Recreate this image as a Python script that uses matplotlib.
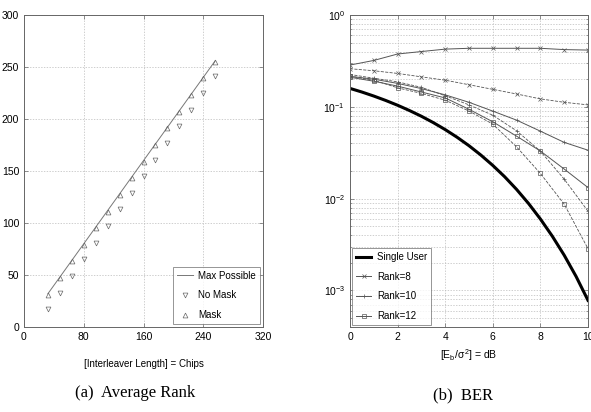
import matplotlib.pyplot as plt
from matplotlib.ticker import LogLocator, NullFormatter

# ---- (a) Average Rank ----
interleaver_len = [32, 48, 64, 80, 96, 112, 128, 144, 160, 176, 192, 208, 224, 240, 256]
max_possible = [32, 48, 64, 80, 96, 112, 128, 144, 160, 176, 192, 208, 224, 240, 256]
rank_no_mask = [17, 33, 49, 65, 81, 97, 113, 129, 145, 161, 177, 193, 209, 225, 241]
rank_mask = [31, 47, 63, 79, 95, 111, 127, 143, 159, 175, 191, 207, 223, 239, 255]

# ---- (b) BER ----
snr_db = [0, 1, 2, 3, 4, 5, 6, 7, 8, 9, 10]
snr_fine = [0, 0.5, 1, 1.5, 2, 2.5, 3, 3.5, 4, 4.5, 5, 5.5, 6, 6.5, 7, 7.5, 8, 8.5, 9, 9.5, 10]
ber_single = [0.1587, 0.1449, 0.131, 0.1173, 0.104, 0.0911, 0.0789, 0.0673, 0.0565, 0.0466,
              0.0377, 0.0298, 0.0230, 0.0173, 0.0126, 0.00887, 0.0060, 0.00390, 0.00242,
              0.00142, 0.00078]
ber_r8_solid = [0.285, 0.32, 0.376, 0.40, 0.425, 0.434, 0.434, 0.434, 0.434, 0.42, 0.415]
ber_r8_dash = [0.26, 0.247, 0.231, 0.212, 0.195, 0.174, 0.155, 0.138, 0.122, 0.112, 0.105]
ber_r10_solid = [0.215, 0.20, 0.18, 0.158, 0.135, 0.112, 0.0898, 0.0716, 0.0543, 0.041, 0.0337]
ber_r10_dash = [0.225, 0.205, 0.187, 0.163, 0.132, 0.105, 0.081, 0.0548, 0.0329, 0.0163, 0.0073]
ber_r12_solid = [0.21, 0.19, 0.168, 0.145, 0.125, 0.094, 0.0687, 0.0479, 0.033, 0.021, 0.0132]
ber_r12_dash = [0.215, 0.195, 0.161, 0.14, 0.118, 0.09, 0.0648, 0.0366, 0.0188, 0.0087, 0.00285]

plt.rcParams["font.family"] = ["Liberation Sans", "DejaVu Sans"]
plt.rcParams["mathtext.fontset"] = "custom"
plt.rcParams["mathtext.rm"] = "Liberation Sans"
plt.rcParams["mathtext.it"] = "Liberation Sans"
plt.rcParams["font.size"] = 7.5

LINE = "#555555"
GRID = dict(color="#bbbbbb", linestyle=(0, (2, 2)), linewidth=0.5)

fig = plt.figure(figsize=(5.91, 4.12), dpi=100)
ax1 = fig.add_axes([24 / 591, 85 / 412, 239 / 591, 312 / 412])
ax2 = fig.add_axes([350 / 591, 85 / 412, 238 / 591, 312 / 412])

for ax in (ax1, ax2):
    for s in ax.spines.values():
        s.set_color("#666666")
        s.set_linewidth(0.7)
    ax.tick_params(direction="in", top=True, right=True, length=3, width=0.5,
                   colors="#666666", labelcolor="black", labelsize=7.5)

ax1.plot(interleaver_len, max_possible, color="#777777", lw=0.7, label="Max Possible")
ax1.plot(interleaver_len, rank_no_mask, ls="none", marker="v", ms=3.5, mfc="none",
         mec="#666666", mew=0.5, label="No Mask")
ax1.plot(interleaver_len, rank_mask, ls="none", marker="^", ms=3.5, mfc="none",
         mec="#666666", mew=0.5, label="Mask")
ax1.set_xlim(0, 320)
ax1.set_ylim(0, 300)
ax1.set_xticks([0, 80, 160, 240, 320])
ax1.set_yticks(range(0, 301, 50))
ax1.grid(True, **GRID)
ax1.set_xlabel("[Interleaver Length] = Chips", fontsize=7, labelpad=12)
leg1 = ax1.legend(loc="lower right", fontsize=7, fancybox=False, edgecolor="#666666",
                  handlelength=1.6, handletextpad=0.6, borderaxespad=0.3,
                  labelspacing=1.0)
leg1.get_frame().set_linewidth(0.6)

ax2.plot(snr_fine, ber_single, color="black", lw=2.2, label="Single User")
ax2.plot(snr_db, ber_r8_solid, color=LINE, lw=0.7, marker="x", ms=2.5, mew=0.5, label="Rank=8")
ax2.plot(snr_db, ber_r8_dash, color=LINE, lw=0.6, ls="--", marker="x", ms=2.5, mew=0.5)
ax2.plot(snr_db, ber_r10_solid, color=LINE, lw=0.7, marker="+", ms=3.5, mew=0.5, label="Rank=10")
ax2.plot(snr_db, ber_r10_dash, color=LINE, lw=0.6, ls="--", marker="+", ms=3.5, mew=0.5)
ax2.plot(snr_db, ber_r12_solid, color=LINE, lw=0.7, marker="s", ms=3, mfc="none", mew=0.5,
         label="Rank=12")
ax2.plot(snr_db, ber_r12_dash, color=LINE, lw=0.6, ls="--", marker="s", ms=3, mfc="none", mew=0.5)
ax2.set_yscale("log")
ax2.set_xlim(0, 10)
ax2.set_ylim(4e-4, 1)
ax2.set_xticks([0, 2, 4, 6, 8, 10])
ax2.yaxis.set_major_locator(LogLocator(base=10, numticks=10))
ax2.yaxis.set_minor_locator(LogLocator(base=10, subs=range(2, 10), numticks=20))
ax2.yaxis.set_minor_formatter(NullFormatter())
ax2.tick_params(which="minor", direction="in", right=True, length=1.5, width=0.4,
                colors="#666666")
ax2.grid(True, which="major", **GRID)
ax2.grid(True, which="minor", axis="y", **GRID)
ax2.set_xlabel(r"[E$_\mathrm{b}$/$\sigma^2$] = dB", fontsize=7.5, labelpad=4)
leg2 = ax2.legend(loc="lower left", fontsize=7, fancybox=False, edgecolor="#666666",
                  handlelength=1.6, handletextpad=0.6, borderaxespad=0.2,
                  labelspacing=1.0)
leg2.get_frame().set_linewidth(0.6)

fig.text(135 / 591, 1 - 393 / 412, "(a)  Average Rank", family="Liberation Serif",
         fontsize=12, ha="center", va="center")
fig.text(463 / 591, 1 - 395 / 412, "(b)  BER", family="Liberation Serif",
         fontsize=12, ha="center", va="center")

fig.savefig("out.png", dpi=100)
